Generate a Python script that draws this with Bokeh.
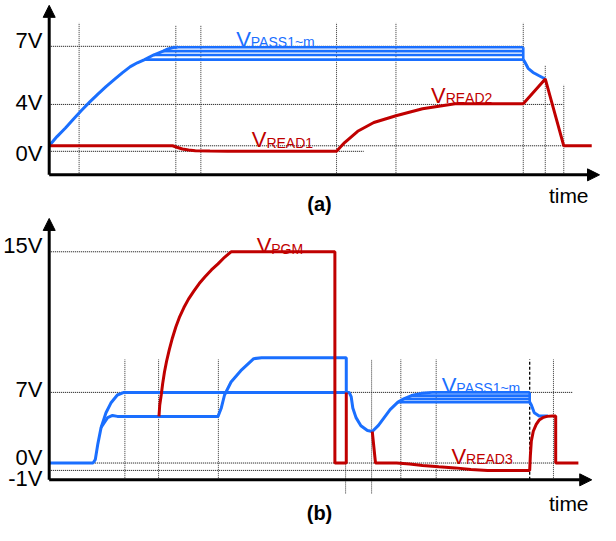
from bokeh.plotting import figure
from bokeh.layouts import column
from bokeh.models import Range1d, Arrow, NormalHead
from bokeh.core.properties import value
from bokeh.embed import file_html
from bokeh.resources import INLINE

BLUE = "#1a6fff"
RED = "#c00000"
FONT = value("Liberation Sans")

# ---------------- Panel (a) data: time units, level units ----------------
a_pass_env_t = [0, 8, 16.7, 25, 33.3, 41.7, 50, 58.3, 66.7, 75, 83.3, 90.5, 98,
                107, 117, 122, 127, 132]
a_pass_env_v = [30, 39.5, 48.3, 57.7, 66.7, 75.3, 83.3, 91, 98.3, 105.3, 111.7, 115.7, 119,
                123.7, 127.7, 130, 131.4, 131.7]
a_bundle_levels = [131.7, 127.7, 123.7, 119]
a_bundle_start = [132, 117, 107, 98]
a_bundle_end = 486.7
a_pass_drop_t = [486.7, 488, 491.7, 496.7, 503, 509.3]
a_pass_drop_v = [119, 117, 110, 105.7, 102.3, 99]

a_read_t = [0, 126.7, 131, 136.7, 143, 150, 165, 183, 295, 303.3, 316.7, 333.3,
            356, 383.3, 416.7, 486.7, 509.3, 528.3, 557]
a_read_v = [30, 30, 28.5, 26.7, 25.6, 25, 24.5, 24.3, 24.3, 33.3, 45, 54,
            61, 68.3, 73.3, 73.3, 99, 30, 30]

a_h_lvl = [132.7, 72.7, 30, 24.3]
a_h_t0 = [0, 0, 130, 0]
a_h_t1 = [487, 528, 528, 323]
a_v_t = [30.7, 130, 155.7, 295, 356, 486.7, 509.3, 528.3]
a_v_top = [157, 154, 154, 157, 157, 157, 113, 93]

a_tick_labels = ["7V", "4V", "0V"]
a_tick_pos = [139, 75, 22]

# ---------------- Panel (b) data ----------------
b_pass1_t = [0, 45, 47.3, 50, 53.3, 58.3, 63.3, 70, 76.7, 83.3, 308, 310, 311.7, 315, 320,
             326.7, 331.7, 338, 350, 358, 364, 372, 382, 393]
b_pass1_v = [17.3, 17.3, 20.7, 37.3, 54, 69, 79, 87.3, 90, 90, 90, 85.7, 74, 64, 55.7,
             50.7, 49.7, 56, 72.3, 80, 83.3, 86.7, 89, 90]
b_bundle_levels = [90, 86.7, 83.3, 80]
b_bundle_start = [393, 372, 364, 358]
b_bundle_end = 493.3
b_pass_drop_t = [493.3, 495, 498, 503, 512]
b_pass_drop_v = [80, 77, 69, 65.7, 65.7]

b_pass2_t = [53.3, 56.7, 60, 65, 70, 173.3, 176.7, 180, 186.7, 196.7, 210, 218, 305, 305]
b_pass2_v = [54, 59, 64, 66.3, 65.3, 65.3, 74, 87.3, 100.7, 112.3, 124.7, 125.7, 125.7, 90]

b_pgm_t = [112.7, 113.5, 115, 116.5, 118.3, 120.5, 123.3, 126.5, 130, 134, 138.3, 143,
           148.3, 154, 160, 166.5, 173.3, 180, 186.7, 293.3, 293.3, 305, 305]
b_pgm_v = [65.3, 77, 87.3, 99, 110.7, 122, 134, 146, 157.3, 168, 177.3, 186,
           194, 202, 209, 216, 222.3, 229, 234.7, 234.7, 17.3, 17.3, 90]

b_read3_t = [331.7, 335, 356.7, 370, 383.3, 400, 416.7, 433, 450, 493.3, 494, 495,
             497, 500, 503, 506.7, 511, 516.7, 520, 520, 543.3]
b_read3_v = [49.7, 17.3, 17.3, 16.2, 14.7, 13.4, 12.3, 10.7, 9.7, 9.7, 25, 40,
             50, 57, 61.5, 64, 65.3, 65.7, 65.7, 17.3, 17.3]

b_h_lvl = [234.7, 90, 17.3, 9.7]
b_h_t0 = [0, 0, 0, 0]
b_h_t1 = [186.7, 537, 520, 493.3]
b_v_t = [77.7, 112.3, 173.7, 304.3, 331, 361, 397.3, 517.7]
b_v_top = [124, 124, 124, 124, 124, 124, 124, 124]
b_v_bot = [0, 0, 0, -14, -14, 0, 0, 0]
b_mark_t = 493.3

b_tick_labels = ["15V", "7V", "0V", "-1V"]
b_tick_pos = [241.5, 92.5, 22.5, 1.5]


def base_fig(h, y0, y1):
    p = figure(width=600, height=h, x_range=Range1d(-50, 566), y_range=Range1d(y0, y1),
               output_backend="svg", toolbar_location=None, min_border=0)
    p.axis.visible = False
    p.grid.visible = False
    p.outline_line_color = None
    return p


def guides(p, h_lvl, h_t0, h_t1, v_t, v_top, v_bot):
    p.segment(x0=h_t0, y0=h_lvl, x1=h_t1, y1=h_lvl, line_color="black",
              line_width=1, line_dash="1 1")
    p.segment(x0=v_t, y0=v_bot, x1=v_t, y1=v_top, line_color="#333333",
              line_width=1, line_dash="1 1")


def axes(p, ytip, xtip):
    p.add_layout(Arrow(end=NormalHead(size=12, fill_color="black", line_color="black"),
                       x_start=0, y_start=0, x_end=0, y_end=ytip,
                       line_color="black", line_width=3))
    p.add_layout(Arrow(end=NormalHead(size=12, fill_color="black", line_color="black"),
                       x_start=0, y_start=0, x_end=xtip, y_end=0,
                       line_color="black", line_width=3))


def vlabel(p, x, y, sub, color):
    p.text(x=[x], y=[y], text=["V"], text_font=FONT, text_font_size="22px",
           text_color=color, text_baseline="alphabetic", text_align="left")
    p.text(x=[x + 15], y=[y - 3], text=[sub], text_font=FONT, text_font_size="14px",
           text_color=color, text_baseline="alphabetic", text_align="left")


# ---------------- Figure (a) ----------------
fa = base_fig(216, -43, 180)
guides(fa, a_h_lvl, a_h_t0, a_h_t1, a_v_t, a_v_top, [0] * len(a_v_t))
axes(fa, 175, 565)

fa.line(a_pass_env_t, a_pass_env_v, line_color=BLUE, line_width=3)
for lv, st in zip(a_bundle_levels, a_bundle_start):
    fa.line([st, a_bundle_end], [lv, lv], line_color=BLUE, line_width=2.6)
fa.line([a_bundle_end, a_bundle_end], [a_bundle_levels[0], a_bundle_levels[-1]],
        line_color=BLUE, line_width=2.6)
fa.line(a_pass_drop_t, a_pass_drop_v, line_color=BLUE, line_width=3)
fa.line(a_read_t, a_read_v, line_color=RED, line_width=3)

fa.text(x=[-7] * 3, y=a_tick_pos, text=a_tick_labels, text_font=FONT,
        text_font_size="22px", text_align="right", text_baseline="middle", text_color="black")
vlabel(fa, 192, 140, "PASS1~m", BLUE)
vlabel(fa, 208, 36, "READ1", RED)
vlabel(fa, 392, 82, "READ2", RED)
fa.text(x=[513], y=[-21.5], text=["time"], text_font=FONT, text_font_size="21px",
        text_align="left", text_baseline="alphabetic", text_color="black")
fa.text(x=[277.5], y=[-30.5], text=["(a)"], text_font=FONT, text_font_size="20px",
        text_font_style="bold", text_align="center", text_baseline="middle", text_color="black")

# ---------------- Figure (b) ----------------
fb = base_fig(309, -47, 271)
guides(fb, b_h_lvl, b_h_t0, b_h_t1, b_v_t, b_v_top, b_v_bot)
fb.line([b_mark_t, b_mark_t], [0, 124], line_color="black", line_width=1.3, line_dash="3 2")
axes(fb, 269, 557)

fb.line(b_pass1_t, b_pass1_v, line_color=BLUE, line_width=3)
fb.line(b_pass2_t, b_pass2_v, line_color=BLUE, line_width=3)
for lv, st in zip(b_bundle_levels, b_bundle_start):
    fb.line([st, b_bundle_end], [lv, lv], line_color=BLUE, line_width=2.6)
fb.line([b_bundle_end, b_bundle_end], [b_bundle_levels[0], b_bundle_levels[-1]],
        line_color=BLUE, line_width=2.6)
fb.line(b_pass_drop_t, b_pass_drop_v, line_color=BLUE, line_width=3)
fb.line(b_pgm_t, b_pgm_v, line_color=RED, line_width=3)
fb.line(b_read3_t, b_read3_v, line_color=RED, line_width=3)

fb.text(x=[-7] * 4, y=b_tick_pos, text=b_tick_labels, text_font=FONT,
        text_font_size="22px", text_align="right", text_baseline="middle", text_color="black")
vlabel(fb, 213, 241, "PGM", RED)
vlabel(fb, 403, 97, "PASS1~m", BLUE)
vlabel(fb, 413, 24, "READ3", RED)
fb.text(x=[513], y=[-24.3], text=["time"], text_font=FONT, text_font_size="21px",
        text_align="left", text_baseline="alphabetic", text_color="black")
fb.text(x=[277.5], y=[-34], text=["(b)"], text_font=FONT, text_font_size="20px",
        text_font_style="bold", text_align="center", text_baseline="middle", text_color="black")

layout = column(fa, fb, spacing=0)
open("out.html", "w").write(file_html(layout, INLINE))
